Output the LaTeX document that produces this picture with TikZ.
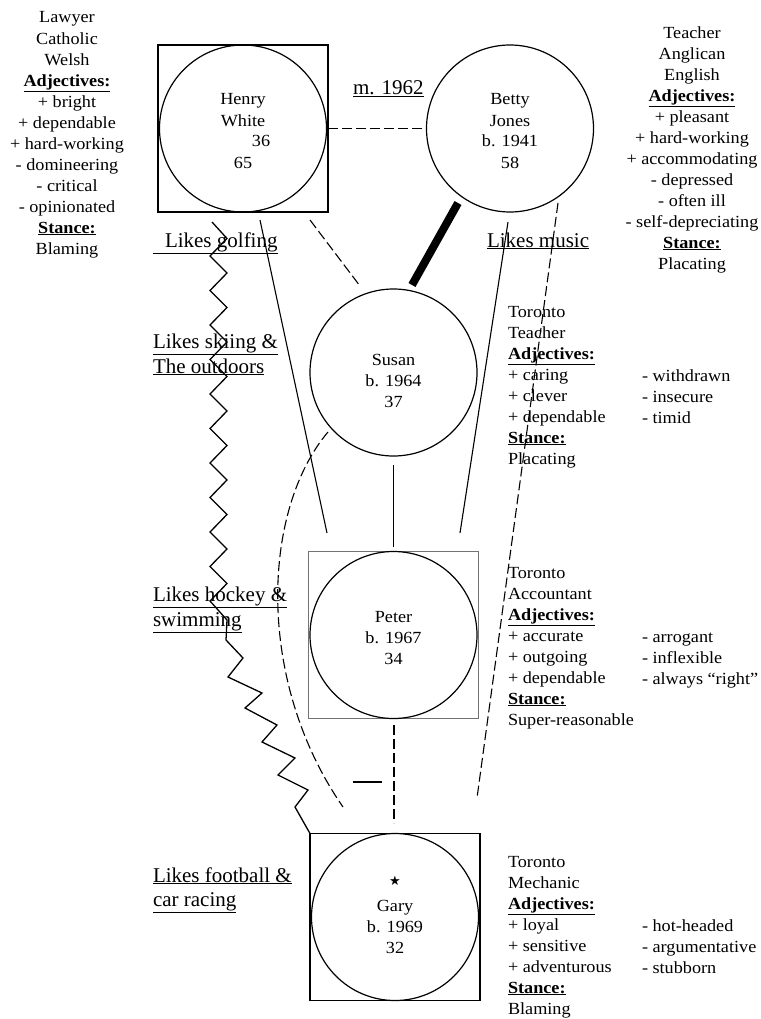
\documentclass[tikz,border=0pt]{standalone}
\usepackage{fontspec}
\setmainfont{Liberation Serif}
\newfontfamily\widefont{Liberation Serif}[FakeStretch=1.07]
\newfontfamily\djv{DejaVu Sans}
\begin{document}
\begin{tikzpicture}[x=1pt,y=-1pt,
  every node/.style={inner sep=0pt, outer sep=0pt},
  txt/.style={font=\widefont\fontsize{17}{21}\selectfont},
  big/.style={font=\fontsize{21}{25}\selectfont},
  person/.style={circle, draw, line width=1.2pt, minimum size=167pt},
  male/.style={rectangle, draw, line width=1.3pt, minimum width=170pt, minimum height=167pt},
  solidline/.style={line width=1.1pt},
  dashline/.style={line width=1.1pt, dash pattern=on 10pt off 4pt},
  heavyline/.style={line width=8pt}
]
\newcommand{\fl}{\rule{0pt}{12pt}}
\newcommand{\hd}[1]{\textbf{\underline{#1}}}
\path[fill=white] (0,0) rectangle (760,1019);
\useasboundingbox (0,0) rectangle (760,1019);

% people
\node[male] (henrysq) at (243,128.5) {};
\node[person] (henry) at (243,128.5) {};
\node[txt, align=center, anchor=north] (henryt) at (243,93) {\fl Henry\\White\\\hspace*{36pt}36\\65};

\node[person] (betty) at (510,128.5) {};
\node[txt, align=center, anchor=north] (bettyt) at (510,93) {\fl Betty\\Jones\\b. 1941\\58};

\node[person] (susan) at (393.5,372.5) {};
\node[txt, align=center, anchor=north] (susant) at (393.5,353) {\fl Susan\\b. 1964\\37};

\node[male, draw=black!55, line width=1.6pt] (petersq) at (393.5,635) {};
\node[person] (peter) at (393.5,635) {};
\node[txt, align=center, anchor=north] (petert) at (393.5,610) {\fl Peter\\b. 1967\\34};

\node[male] (garysq) at (395,917) {};
\node[person] (gary) at (395,917) {};
\node[font=\djv\fontsize{13}{13}\selectfont] (garystar) at (395,881) {★};
\node[txt, align=center, anchor=north] (garyt) at (395,899) {\fl Gary\\b. 1969\\32};

% endpoints
\coordinate (hA) at (310,220);   \coordinate (sA) at (360,286);
\coordinate (hB) at (260,220);   \coordinate (pA) at (327,533);
\coordinate (bB) at (508,222);   \coordinate (pB) at (460,533);
\coordinate (bC) at (558,203);   \coordinate (gA) at (477,798);
\coordinate (bA) at (458,203);   \coordinate (sD) at (412,285);
\coordinate (sB) at (393.5,465); \coordinate (pC) at (393.5,547);
\coordinate (pD) at (394,725);   \coordinate (gB) at (394,823);
\coordinate (sC) at (328,432);   \coordinate (gC) at (343,807);
\coordinate (hC) at (212,222);
\coordinate (m1) at (353,782);   \coordinate (m2) at (382,782);

% connectors
\draw[dashline] (henrysq.east) -- (betty.west);
\draw[heavyline] (bA) -- (sD);
\draw[dashline] (hA) -- (sA);
\draw[solidline] (hB) -- (pA);
\draw[solidline] (bB) -- (pB);
\draw[dashline] (bC) -- (gA);
\draw[solidline] (sB) -- (pC);
\draw[dashline] (pD) -- (gB);
\draw[dashline] (sC) .. controls (262,510) and (255,680) .. (gC);
\draw[solidline] (m1) -- (m2);
\draw[solidline, line width=1.3pt, line join=miter] (hC) -- (227,238.5) -- (210,256) -- (227,273) -- (210,290.5) -- (227,307.5)
  -- (210,325) -- (227,342) -- (210,359.5) -- (227,376.5) -- (210,394) -- (227,411)
  -- (210,428.5) -- (227,445.5) -- (210,463) -- (227,480) -- (210,497.5) -- (227,514.5)
  -- (210,532) -- (227,549) -- (210,566.5) -- (227,583.5) -- (210,601) -- (227,620)
  -- (226,640) -- (243,658) -- (228,677) -- (262,693) -- (245,708) -- (277,725)
  -- (262,742) -- (295,758) -- (278,775) -- (308,790) -- (295,807) -- (garysq.north west);

% labels
\node[big, anchor=base west] (marr) at (353,95) {\underline{m. 1962}};
\node[big, anchor=base west] (lgolf) at (153,247) {\underline{\hspace*{12pt}Likes golfing}};
\node[big, anchor=base west] (lmusic) at (487,247) {\underline{Likes music}};
\node[big, anchor=base west] (lski1) at (153,348) {\underline{Likes skiing \&}};
\node[big, anchor=base west] (lski2) at (153,373) {\underline{The outdoors}};
\node[big, anchor=base west] (lhock1) at (153,601) {\underline{Likes hockey \&}};
\node[big, anchor=base west] (lhock2) at (153,626) {\underline{swimming}};
\node[big, anchor=base west] (lfoot1) at (153,882) {\underline{Likes football \&}};
\node[big, anchor=base west] (lfoot2) at (153,906) {\underline{car racing}};

% info blocks
\node[txt, align=center, anchor=north] (henryinfo) at (67,11) {\fl Lawyer\\Catholic\\Welsh\\\hd{Adjectives:}\\+ bright\\+ dependable\\+ hard-working\\- domineering\\- critical\\- opinionated\\\hd{Stance:}\\Blaming};
\node[txt, align=center, anchor=north] (bettyinfo) at (692,26) {\fl Teacher\\Anglican\\English\\\hd{Adjectives:}\\+ pleasant\\+ hard-working\\+ accommodating\\- depressed\\- often ill\\- self-depreciating\\\hd{Stance:}\\Placating};

\node[txt, align=left, anchor=north west] (susaninfo) at (508,305) {\fl Toronto\\Teacher\\\hd{Adjectives:}\\+ caring\\+ clever\\+ dependable\\\hd{Stance:}\\Placating};
\node[txt, align=left, anchor=north west] (susanneg) at (642,369) {\fl - withdrawn\\- insecure\\- timid};

\node[txt, align=left, anchor=north west] (peterinfo) at (508,566) {\fl Toronto\\Accountant\\\hd{Adjectives:}\\+ accurate\\+ outgoing\\+ dependable\\\hd{Stance:}\\Super-reasonable};
\node[txt, align=left, anchor=north west] (peterneg) at (642,630) {\fl - arrogant\\- inflexible\\- always “right”};

\node[txt, align=left, anchor=north west] (garyinfo) at (508,855) {\fl Toronto\\Mechanic\\\hd{Adjectives:}\\+ loyal\\+ sensitive\\+ adventurous\\\hd{Stance:}\\Blaming};
\node[txt, align=left, anchor=north west] (garyneg) at (642,919) {\fl - hot-headed\\- argumentative\\- stubborn};
\end{tikzpicture}
\end{document}
